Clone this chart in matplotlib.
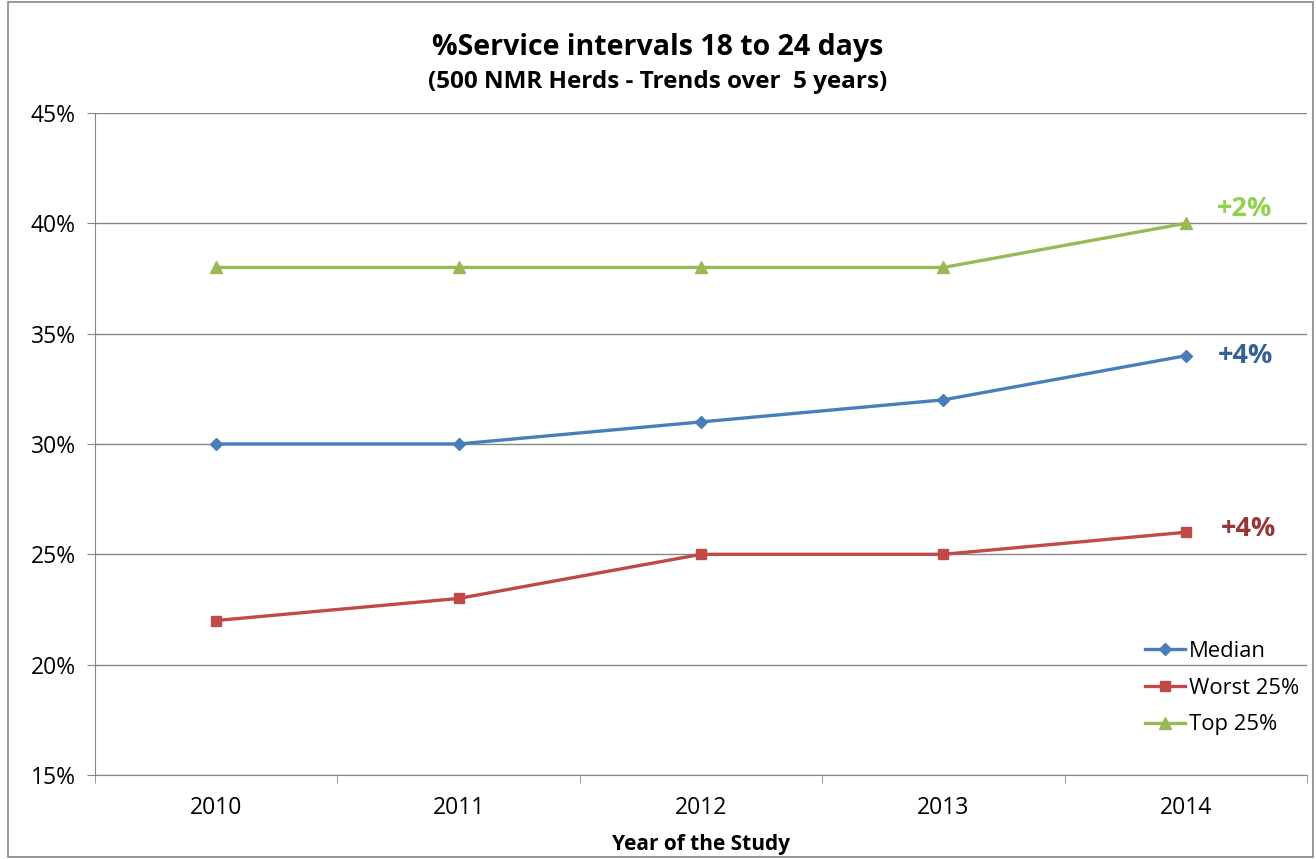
import matplotlib.pyplot as plt
from matplotlib.patches import Rectangle
from matplotlib.ticker import FixedLocator, PercentFormatter

plt.rcParams['font.family'] = ['Open Sans', 'DejaVu Sans']

years = ["2010", "2011", "2012", "2013", "2014"]
median = [30, 30, 31, 32, 34]
worst25 = [22, 23, 25, 25, 26]
top25 = [38, 38, 38, 38, 40]
changes = ["+4%", "+4%", "+2%"]

fig = plt.figure(figsize=(13.16, 8.59), dpi=100)
ax = fig.add_axes([0.0722, 0.0978, 0.921, 0.7707])
fig.patches.append(Rectangle((0.006, 0.002), 0.992, 0.996, transform=fig.transFigure,
                             fill=False, edgecolor="#868686", lw=1.2))

x = range(len(years))
ax.plot(x, median, color="#4A7EBB", lw=2.4, marker="D", ms=6.5, label="Median", zorder=3)
ax.plot(x, worst25, color="#BE4B48", lw=2.4, marker="s", ms=7.5, label="Worst 25%", zorder=3)
ax.plot(x, top25, color="#98B954", lw=2.4, marker="^", ms=8, label="Top 25%", zorder=3)

# change labels next to the last points
ax.annotate(changes[0], (x[-1], median[-1]), xytext=(43, 0), textcoords="offset points",
            ha="center", va="center", fontsize=19.5, fontweight="bold", color="#376092")
ax.annotate(changes[1], (x[-1], worst25[-1]), xytext=(45, 2), textcoords="offset points",
            ha="center", va="center", fontsize=19.5, fontweight="bold", color="#953735")
ax.annotate(changes[2], (x[-1], top25[-1]), xytext=(42, 10), textcoords="offset points",
            ha="center", va="center", fontsize=19.5, fontweight="bold", color="#92D050")

ax.set_xlim(-0.5, 4.5)
ax.set_ylim(15, 45)
ax.set_yticks(range(15, 46, 5))
ax.yaxis.set_major_formatter(PercentFormatter(decimals=0))
ax.set_xticks(list(x))
ax.set_xticklabels(years)
ax.xaxis.set_minor_locator(FixedLocator([i - 0.5 for i in range(6)]))
ax.tick_params(axis="x", which="major", length=0, pad=15, labelsize=16.5)
ax.tick_params(axis="x", which="minor", length=6, color="#868686", direction="out")
ax.tick_params(axis="y", length=6, color="#868686", labelsize=16.5, pad=8)
ax.grid(axis="y", color="#868686", lw=1)
ax.set_axisbelow(True)
for s in ["top", "right"]:
    ax.spines[s].set_visible(False)
for s in ["left", "bottom"]:
    ax.spines[s].set_color("#868686")

ax.set_xlabel("Year of the Study", fontsize=15, fontweight="bold", labelpad=10)
fig.text(0.5, 0.945, "%Service intervals 18 to 24 days", ha="center", va="center",
         fontsize=20.5, fontweight="bold")
fig.text(0.5, 0.904, "(500 NMR Herds - Trends over  5 years)", ha="center", va="center",
         fontsize=17.5, fontweight="bold")

ax.legend(loc="lower right", bbox_to_anchor=(1.01, 0.03), frameon=False, fontsize=15.8,
          handlelength=1.8, labelspacing=0.72, handletextpad=0.2)

fig.savefig("out.png", dpi=100)
